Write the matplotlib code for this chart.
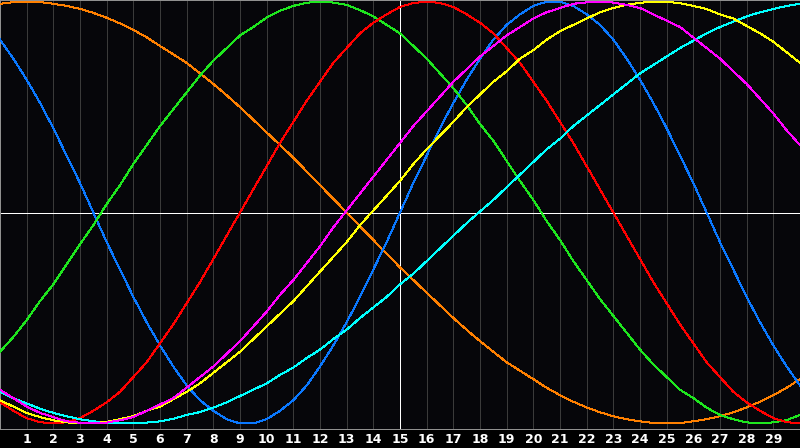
import matplotlib
matplotlib.use("Agg")
import matplotlib.pyplot as plt

# half-day steps from day 0 to day 30, ticks on days 1..29
days = [i / 2 for i in range(61)]
tick_days = list(range(1, 30))

# curve values every half day (-1 .. 1)
blue = [0.82, 0.73, 0.63, 0.52, 0.40, 0.27, 0.14, 0.00, -0.14, -0.27,
        -0.40, -0.52, -0.63, -0.73, -0.82, -0.89, -0.94, -0.98, -1.00, -1.00,
        -0.98, -0.94, -0.89, -0.82, -0.73, -0.63, -0.52, -0.40, -0.27, -0.14,
        0.00, 0.14, 0.27, 0.40, 0.52, 0.63, 0.73, 0.82, 0.89, 0.94,
        0.98, 1.00, 1.00, 0.98, 0.94, 0.89, 0.82, 0.73, 0.63, 0.52,
        0.40, 0.27, 0.14, 0.00, -0.14, -0.27, -0.40, -0.52, -0.63, -0.73, -0.82]
red = [-0.90, -0.94, -0.975, -0.994, -1.00, -0.994, -0.975, -0.94, -0.90, -0.85,
       -0.78, -0.71, -0.62, -0.53, -0.43, -0.33, -0.22, -0.11, 0.00, 0.11,
       0.22, 0.33, 0.43, 0.53, 0.62, 0.71, 0.78, 0.85, 0.90, 0.94,
       0.975, 0.994, 1.00, 0.994, 0.975, 0.94, 0.90, 0.85, 0.78, 0.71,
       0.62, 0.53, 0.43, 0.33, 0.22, 0.11, 0.00, -0.11, -0.22, -0.33,
       -0.43, -0.53, -0.62, -0.71, -0.78, -0.85, -0.90, -0.94, -0.975, -0.994, -1.00]
green = [-0.66, -0.59, -0.51, -0.42, -0.34, -0.245, -0.15, -0.06, 0.04, 0.13,
         0.23, 0.32, 0.41, 0.49, 0.57, 0.65, 0.72, 0.78, 0.84, 0.88,
         0.925, 0.957, 0.98, 0.995, 1.00, 0.996, 0.985, 0.96, 0.93, 0.89,
         0.85, 0.79, 0.73, 0.66, 0.59, 0.51, 0.42, 0.34, 0.245, 0.15,
         0.06, -0.04, -0.13, -0.23, -0.32, -0.41, -0.49, -0.57, -0.65, -0.72,
         -0.78, -0.84, -0.88, -0.925, -0.96, -0.98, -0.995, -1.00, -0.995, -0.984, -0.96]
magenta = [-0.84, -0.88, -0.92, -0.95, -0.97, -0.99, -0.997, -1.00, -0.996, -0.985,
           -0.97, -0.94, -0.91, -0.88, -0.83, -0.78, -0.73, -0.67, -0.61, -0.54,
           -0.47, -0.39, -0.32, -0.24, -0.16, -0.07, 0.01, 0.09, 0.17, 0.25,
           0.33, 0.41, 0.48, 0.55, 0.62, 0.68, 0.74, 0.79, 0.84, 0.88,
           0.92, 0.95, 0.97, 0.99, 0.997, 1.00, 0.996, 0.985, 0.97, 0.94,
           0.91, 0.88, 0.83, 0.78, 0.73, 0.67, 0.61, 0.54, 0.47, 0.39, 0.32]
yellow = [-0.89, -0.92, -0.95, -0.97, -0.985, -0.995, -1.00, -0.999, -0.993, -0.98,
          -0.965, -0.94, -0.92, -0.885, -0.85, -0.81, -0.76, -0.71, -0.66, -0.60,
          -0.54, -0.48, -0.42, -0.35, -0.28, -0.21, -0.14, -0.06, 0.01, 0.08,
          0.15, 0.23, 0.30, 0.365, 0.43, 0.50, 0.56, 0.62, 0.67, 0.73,
          0.77, 0.82, 0.86, 0.89, 0.92, 0.95, 0.97, 0.985, 0.995, 1.00,
          0.999, 0.993, 0.98, 0.965, 0.94, 0.92, 0.885, 0.85, 0.81, 0.76, 0.71]
orange = [0.99, 0.998, 1.00, 0.998, 0.99, 0.98, 0.966, 0.947, 0.924, 0.897,
          0.866, 0.831, 0.79, 0.75, 0.71, 0.66, 0.61, 0.556, 0.50, 0.44,
          0.38, 0.32, 0.26, 0.195, 0.13, 0.065, 0.00, -0.065, -0.13, -0.195,
          -0.26, -0.32, -0.38, -0.44, -0.50, -0.556, -0.61, -0.66, -0.71, -0.75,
          -0.79, -0.831, -0.866, -0.897, -0.924, -0.947, -0.966, -0.98, -0.99, -0.998,
          -1.00, -0.998, -0.99, -0.98, -0.966, -0.947, -0.924, -0.897, -0.866, -0.831, -0.79]
cyan = [-0.85, -0.88, -0.905, -0.93, -0.95, -0.966, -0.98, -0.99, -0.996, -1.00,
        -0.999, -0.996, -0.99, -0.978, -0.96, -0.946, -0.925, -0.90, -0.87, -0.84,
        -0.81, -0.77, -0.735, -0.69, -0.65, -0.60, -0.555, -0.50, -0.45, -0.40,
        -0.34, -0.29, -0.23, -0.17, -0.11, -0.05, 0.005, 0.06, 0.12, 0.18,
        0.24, 0.30, 0.35, 0.41, 0.46, 0.51, 0.56, 0.61, 0.66, 0.70,
        0.74, 0.78, 0.815, 0.85, 0.88, 0.905, 0.93, 0.95, 0.965, 0.98, 0.99]

series = [
    (orange, "#ff8000"),
    (blue, "#0a78ff"),
    (green, "#1ee61e"),
    (red, "#ff0000"),
    (cyan, "#00ffff"),
    (yellow, "#ffff00"),
    (magenta, "#ff00ff"),
]

W, H = 800, 448
plot_h = 428.5
px = 0.72  # one pixel in points

fig = plt.figure(figsize=(W / 100, H / 100), dpi=100, facecolor="black")
ax = fig.add_axes([0, (H - plot_h) / H, 1, plot_h / H])
ax.set_facecolor("#06060a")

ax.set_xlim(0, 30)
ax.set_ylim(-1.024, 1.008)

# vertical day lines, day 15 and the zero line in white
for d in tick_days:
    if d == 15:
        continue
    ax.axvline(d, color="#3a3a3a", lw=px, antialiased=False, zorder=1)
ax.axvline(15, color="white", lw=px, antialiased=False, zorder=2)
ax.axhline(0, color="white", lw=px, antialiased=False, zorder=2)

for vals, col in series:
    ax.plot(days, vals, color=col, lw=px, antialiased=False, zorder=3)

for side in ["top", "bottom", "left"]:
    ax.spines[side].set_color("#909090")
    ax.spines[side].set_linewidth(px)
ax.spines["right"].set_visible(False)

ax.set_yticks([])
ax.set_xticks(tick_days)
ax.set_xticklabels([str(d) for d in tick_days], color="white",
                   fontsize=9, fontweight="bold", family="DejaVu Sans")
ax.tick_params(axis="x", length=0, pad=3.5)

fig.savefig("out.png", dpi=100, facecolor="black")
